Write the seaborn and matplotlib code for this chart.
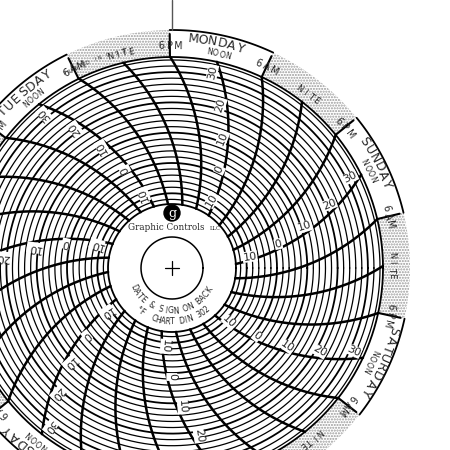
import numpy as np
import matplotlib
matplotlib.use("Agg")
import matplotlib.pyplot as plt
import seaborn as sns

sns.set_style("white")
plt.rcParams["font.family"] = ["DejaVu Sans"]

# chart paper layout
DAYS = ["MONDAY", "SUNDAY", "SATURDAY", "FRIDAY", "THURSDAY", "WEDNESDAY", "TUESDAY"]
MONDAY_NOON = 77.7          # degrees, angle of Monday noon line at the rim
DAY_SPAN = 360 / 7
SCALE_VALUES = [0, 10, 20, 30]
RING_VALUES = list(range(-12, 35, 2))
R_IN, R_OUT, R_BAND = 64, 211, 238
ARM = 200                   # pen arm radius of the time arcs


def v2r(v):
    return 105 + 3.03 * v


def arc_theta(theta_out, r):
    # time lines are circular arcs swept by the pen arm
    return theta_out - np.degrees(np.arccos(r / (2 * ARM)) - np.arccos(R_OUT / (2 * ARM)))


def pol(r, th):
    t = np.radians(th)
    return r * np.cos(t), r * np.sin(t)


def curved(ax, text, r, th, size, step, outward=True, **kw):
    n = len(text)
    for i, ch in enumerate(text):
        if outward:
            a = th + step * (n - 1) / 2 - step * i
            rot = a - 90
        else:
            a = th - step * (n - 1) / 2 + step * i
            rot = a + 90
        x, y = pol(r, a)
        ax.text(x, y, ch, rotation=rot, ha="center", va="center", fontsize=size, **kw)


fig = plt.figure(figsize=(4.5, 4.5), dpi=100)
ax = fig.add_axes([0, 0, 1, 1])
ax.set_xlim(-172, 278)
ax.set_ylim(-182, 268)
ax.set_aspect("equal")
ax.axis("off")

# stippled night sections in the outer band
for k in range(7):
    noon = MONDAY_NOON - k * DAY_SPAN
    a0, a1 = noon + 12.86, noon + DAY_SPAN - 12.86
    t = np.linspace(a0, a1, 60)
    xo, yo = pol(R_BAND, t)
    xi, yi = pol(R_OUT, t[::-1])
    ax.fill(np.r_[xo, xi], np.r_[yo, yi], facecolor="white", edgecolor="#999999",
            hatch="......", lw=0)
    td = np.linspace(noon - 12.86, noon + 12.86, 40)
    ax.plot(*pol(R_BAND, td), color="black", lw=1.3)
    for a in (noon - 12.86, noon + 12.86):
        ax.plot(*pol(np.array([R_OUT, R_BAND - 4]), np.array([a, a])), color="black", lw=1.5)

# rings
t = np.linspace(0, 360, 720)
for v in RING_VALUES:
    ax.plot(*pol(v2r(v), t), color="black", lw=0.9 if v % 10 else 1.3)
ax.plot(*pol(R_OUT, t), color="black", lw=1.3)
ax.plot(*pol(R_IN, t), color="black", lw=1.3)
ax.plot(*pol(31, t), color="black", lw=1.1)

# time arcs every 6 hours
rr = np.linspace(R_IN, R_OUT, 80)
for k in range(28):
    th0 = MONDAY_NOON - 12.86 * k
    ax.plot(*pol(rr, arc_theta(th0, rr)), color="black", lw=1.8)

# labels in the band
for k, day in enumerate(DAYS):
    noon = MONDAY_NOON - k * DAY_SPAN
    curved(ax, day, 230, noon + 1, 9, 2.4)
    curved(ax, "NOON", 219, noon, 5.5, 1.7)
    curved(ax, "6PM", 222, noon + 12.86, 7, 2.2)
    curved(ax, "6AM", 222, noon - 12.86, 7, 2.2)
    curved(ax, "NITE", 220, noon - 25.7, 6, 1.8)
    # scale numbers along the noon line
    for v in SCALE_VALUES + [-10]:
        r = v2r(v) + 4
        a = arc_theta(noon, r) + 2.5
        x, y = pol(r, a)
        ax.text(x, y, str(abs(v)), rotation=a, ha="center", va="center", fontsize=8,
                bbox=dict(facecolor="white", edgecolor="none", pad=0.3))

curved(ax, "PRINTED IN U.S.A.", 222, 110, 3.5, 1.1)

# centre printing
ax.add_patch(plt.Circle((0, 55), 8, color="black"))
ax.text(0, 55, "g", color="white", ha="center", va="center", fontsize=9, family="serif")
ax.text(-6, 41, "Graphic Controls", ha="center", va="center", fontsize=6.3, family="serif")
ax.text(43, 40, "LLC", ha="center", va="center", fontsize=3.8, family="serif")
curved(ax, "DATE & SIGN ON BACK", 43, -92, 5.5, 6.8, outward=False)
curved(ax, "°F  CHART DIN 302", 54, -90, 5.5, 5.0, outward=False)
ax.plot([-7, 7], [0, 0], color="black", lw=0.9)
ax.plot([0, 0], [-7, 7], color="black", lw=0.9)

# pen arm
ax.plot([0, 0], [R_BAND, 268], color="#555555", lw=1)

fig.savefig("out.png", dpi=100)
